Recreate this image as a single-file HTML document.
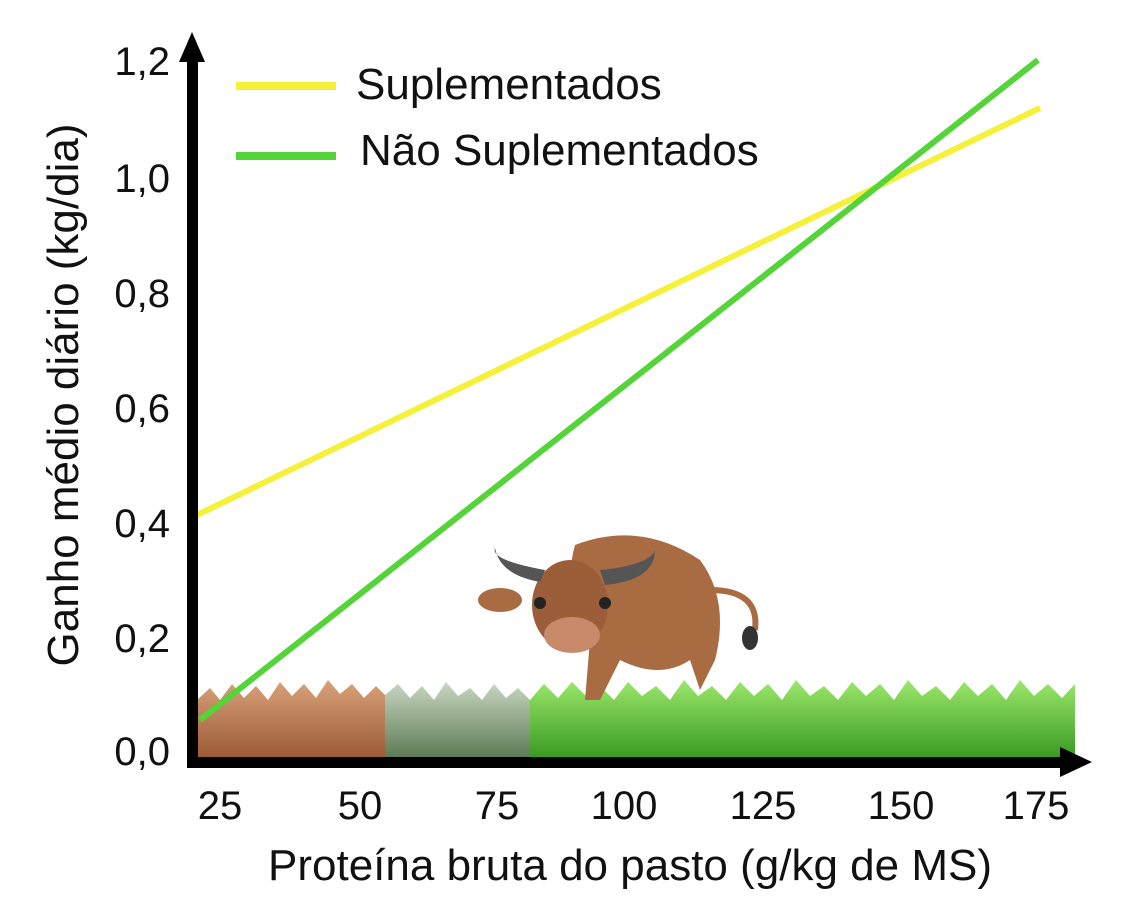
<!DOCTYPE html>
<html><head><meta charset="utf-8"><style>
body{margin:0;background:#fff;}
svg{display:block;font-family:"Liberation Sans","DejaVu Sans",sans-serif;}
</style></head><body>
<svg width="1146" height="918" viewBox="0 0 1146 918" xmlns="http://www.w3.org/2000/svg">
<defs>
<linearGradient id="gb" x1="0" y1="0" x2="0" y2="1"><stop offset="0" stop-color="#d9a27a"/><stop offset="1" stop-color="#9a5a35"/></linearGradient>
<linearGradient id="gg" x1="0" y1="0" x2="0" y2="1"><stop offset="0" stop-color="#c9d6c2"/><stop offset="1" stop-color="#5d7a55"/></linearGradient>
<linearGradient id="gr" x1="0" y1="0" x2="0" y2="1"><stop offset="0" stop-color="#9be86a"/><stop offset="1" stop-color="#3a9a22"/></linearGradient>
</defs>
<polygon fill="url(#gb)" points="197,758 197,700 210,688 220,700 232,684 244,698 256,686 268,700 280,682 292,696 304,684 316,698 328,680 340,694 352,684 364,698 376,686 385,695 385,758"/>
<polygon fill="url(#gg)" points="385,758 385,695 398,684 410,698 422,686 434,700 446,682 458,696 470,688 482,700 494,684 506,698 518,688 530,700 530,758"/>
<polygon fill="url(#gr)" points="530,758 530,700 544,684 558,698 572,682 586,696 600,686 614,700 628,682 642,696 656,686 670,700 684,680 698,696 712,686 726,700 740,682 754,696 768,684 782,700 796,680 810,696 824,686 838,700 852,682 866,696 880,684 894,700 908,680 922,696 936,686 950,700 964,682 978,696 992,684 1006,700 1020,680 1034,696 1048,684 1062,698 1075,684 1075,758"/>
<g>
<path d="M575,545 Q640,520 700,560 Q730,600 715,660 L700,690 L690,660 Q660,680 620,660 L600,700 L585,700 L590,640 Q560,600 575,545 Z" fill="#a86b42"/>
<path d="M710,590 Q760,590 755,630" stroke="#a86b42" stroke-width="6" fill="none"/>
<ellipse cx="750" cy="638" rx="8" ry="12" fill="#333"/>
<ellipse cx="570" cy="605" rx="38" ry="45" fill="#9b5e38"/>
<ellipse cx="572" cy="635" rx="28" ry="18" fill="#c88a6a"/>
<path d="M545,570 Q490,560 495,548 Q500,575 540,582Z" fill="#555"/>
<path d="M600,570 Q650,565 655,550 Q655,580 605,585Z" fill="#555"/>
<ellipse cx="500" cy="600" rx="22" ry="12" fill="#a86b42"/>
<ellipse cx="645" cy="600" rx="22" ry="12" fill="#a86b42"/>
<circle cx="540" cy="603" r="6" fill="#222"/><circle cx="605" cy="603" r="6" fill="#222"/>
</g>
<line x1="197" y1="515" x2="1040" y2="108" stroke="#f5f03a" stroke-width="6"/>
<line x1="200" y1="720" x2="1038" y2="60" stroke="#55d43a" stroke-width="6"/>
<rect x="187" y="50" width="11" height="718" fill="#000"/>
<polygon points="179,62 192,32 205,62" fill="#000"/>
<rect x="187" y="757" width="880" height="11" fill="#000"/>
<polygon points="1060,747 1092,762 1060,777" fill="#000"/>
<g font-size="40" fill="#111" text-anchor="end">
<text x="170" y="75">1,2</text>
<text x="170" y="192">1,0</text>
<text x="170" y="307">0,8</text>
<text x="170" y="422">0,6</text>
<text x="170" y="537">0,4</text>
<text x="170" y="652">0,2</text>
<text x="170" y="765">0,0</text>
</g>
<g font-size="40" fill="#111" text-anchor="middle">
<text x="220" y="819">25</text>
<text x="360" y="819">50</text>
<text x="497" y="819">75</text>
<text x="624" y="819">100</text>
<text x="763" y="819">125</text>
<text x="901" y="819">150</text>
<text x="1036" y="819">175</text>
</g>
<text x="630" y="880" font-size="44" fill="#111" text-anchor="middle">Proteína bruta do pasto (g/kg de MS)</text>
<text transform="translate(78,395) rotate(-90)" font-size="44" fill="#111" text-anchor="middle">Ganho médio diário (kg/dia)</text>
<line x1="236" y1="86" x2="336" y2="86" stroke="#f5f03a" stroke-width="8"/>
<line x1="236" y1="156" x2="336" y2="156" stroke="#55d43a" stroke-width="8"/>
<g font-size="44" fill="#111">
<text x="356" y="99">Suplementados</text>
<text x="360" y="165">Não Suplementados</text>
</g>
</svg>
</body></html>
